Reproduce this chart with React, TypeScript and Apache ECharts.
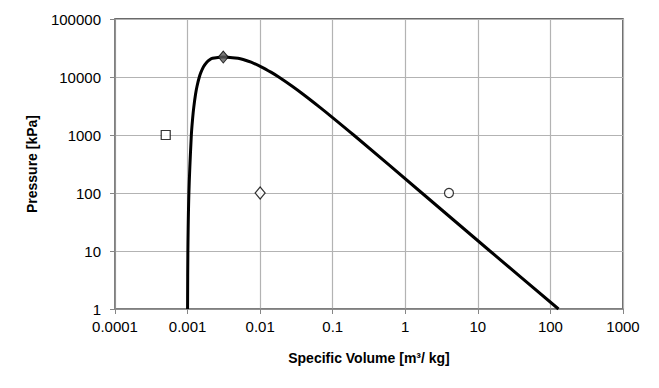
import React, { useEffect, useRef } from "react";
import * as echarts from "echarts";

// Saturation dome (specific volume m3/kg, pressure kPa)
const domeVolume = [
  0.001, 0.00101, 0.001043, 0.001127, 0.001177, 0.001217, 0.001286, 0.001352, 0.001452, 0.001527,
  0.001658, 0.00184, 0.00204, 0.00221, 0.00276, 0.003106, 0.00357, 0.00495, 0.00583, 0.0075,
  0.01034, 0.01426, 0.01803, 0.02737, 0.03945, 0.06666, 0.09959, 0.1944, 1.694, 14.67, 129.2,
];
const domePressure = [
  1, 10, 100, 1000, 2000, 3000, 5000, 7000, 10000, 12000,
  15000, 18000, 20000, 21000, 22000, 22064, 22000, 21000, 20000, 18000,
  15000, 12000, 10000, 7000, 5000, 3000, 2000, 1000, 100, 10, 1,
];

const criticalPoint = [0.003106, 22064];
const squarePoint = [0.0005, 1000];
const diamondPoint = [0.01, 100];
const circlePoint = [4, 100];

const xTickLabels = ["0.0001", "0.001", "0.01", "0.1", "1", "10", "100", "1000"];
const yTickLabels = ["1", "10", "100", "1000", "10000", "100000"];

export default function App() {
  const ref = useRef<HTMLDivElement>(null);
  useEffect(() => {
    if (!ref.current) return;
    const chart = echarts.init(ref.current, undefined, { renderer: "svg" });
    const font = "'Liberation Sans', Arial, sans-serif";
    chart.setOption({
      animation: false,
      grid: {
        left: 115,
        right: 36,
        top: 19,
        bottom: 79,
        show: true,
        borderColor: "#3a3a3a",
        borderWidth: 1.5,
        backgroundColor: "transparent",
      },
      xAxis: {
        type: "log",
        logBase: 10,
        min: 0.0001,
        max: 1000,
        name: "Specific Volume [m³/ kg]",
        nameLocation: "middle",
        nameGap: 42,
        nameTextStyle: { fontFamily: font, fontSize: 14, fontWeight: "bold", color: "#000" },
        axisLine: { lineStyle: { color: "#868686", width: 1.5 } },
        axisTick: { show: true, length: 5, lineStyle: { color: "#868686" } },
        splitLine: { show: true, lineStyle: { color: "#b3b3b3", width: 1.2 } },
        axisLabel: {
          fontFamily: font,
          fontSize: 15,
          color: "#000",
          margin: 10,
          formatter: (v: number) => xTickLabels[Math.round(Math.log10(v)) + 4] ?? "",
        },
      },
      yAxis: {
        type: "log",
        logBase: 10,
        min: 1,
        max: 100000,
        name: "Pressure [kPa]",
        nameLocation: "middle",
        nameGap: 76,
        nameTextStyle: { fontFamily: font, fontSize: 14, fontWeight: "bold", color: "#000" },
        axisLine: { lineStyle: { color: "#868686", width: 1.5 } },
        axisTick: { show: true, length: 5, lineStyle: { color: "#868686" } },
        splitLine: { show: true, lineStyle: { color: "#b3b3b3", width: 1.2 } },
        axisLabel: {
          fontFamily: font,
          fontSize: 15,
          color: "#000",
          margin: 14,
          formatter: (v: number) => yTickLabels[Math.round(Math.log10(v))] ?? "",
        },
      },
      series: [
        {
          type: "line",
          data: domeVolume.map((v, i) => [v, domePressure[i]]),
          showSymbol: false,
          smooth: 0.3,
          lineStyle: { color: "#000", width: 3 },
          z: 3,
        },
        {
          type: "scatter",
          data: [criticalPoint],
          symbol: "diamond",
          symbolSize: [10, 12],
          itemStyle: { color: "#5a5a5a", borderColor: "#000", borderWidth: 1 },
          z: 5,
        },
        {
          type: "scatter",
          data: [squarePoint],
          symbol: "rect",
          symbolSize: 9,
          itemStyle: { color: "#fff", borderColor: "#000", borderWidth: 1.2 },
          z: 5,
        },
        {
          type: "scatter",
          data: [diamondPoint],
          symbol: "diamond",
          symbolSize: [10, 12],
          itemStyle: { color: "#fff", borderColor: "#000", borderWidth: 1.2 },
          z: 5,
        },
        {
          type: "scatter",
          data: [circlePoint],
          symbol: "circle",
          symbolSize: 9,
          itemStyle: { color: "#fff", borderColor: "#000", borderWidth: 1.2 },
          z: 5,
        },
      ],
    });
    return () => chart.dispose();
  }, []);
  return <div ref={ref} style={{ width: 659, height: 388, position: "absolute", left: 0, top: 0 }} />;
}
